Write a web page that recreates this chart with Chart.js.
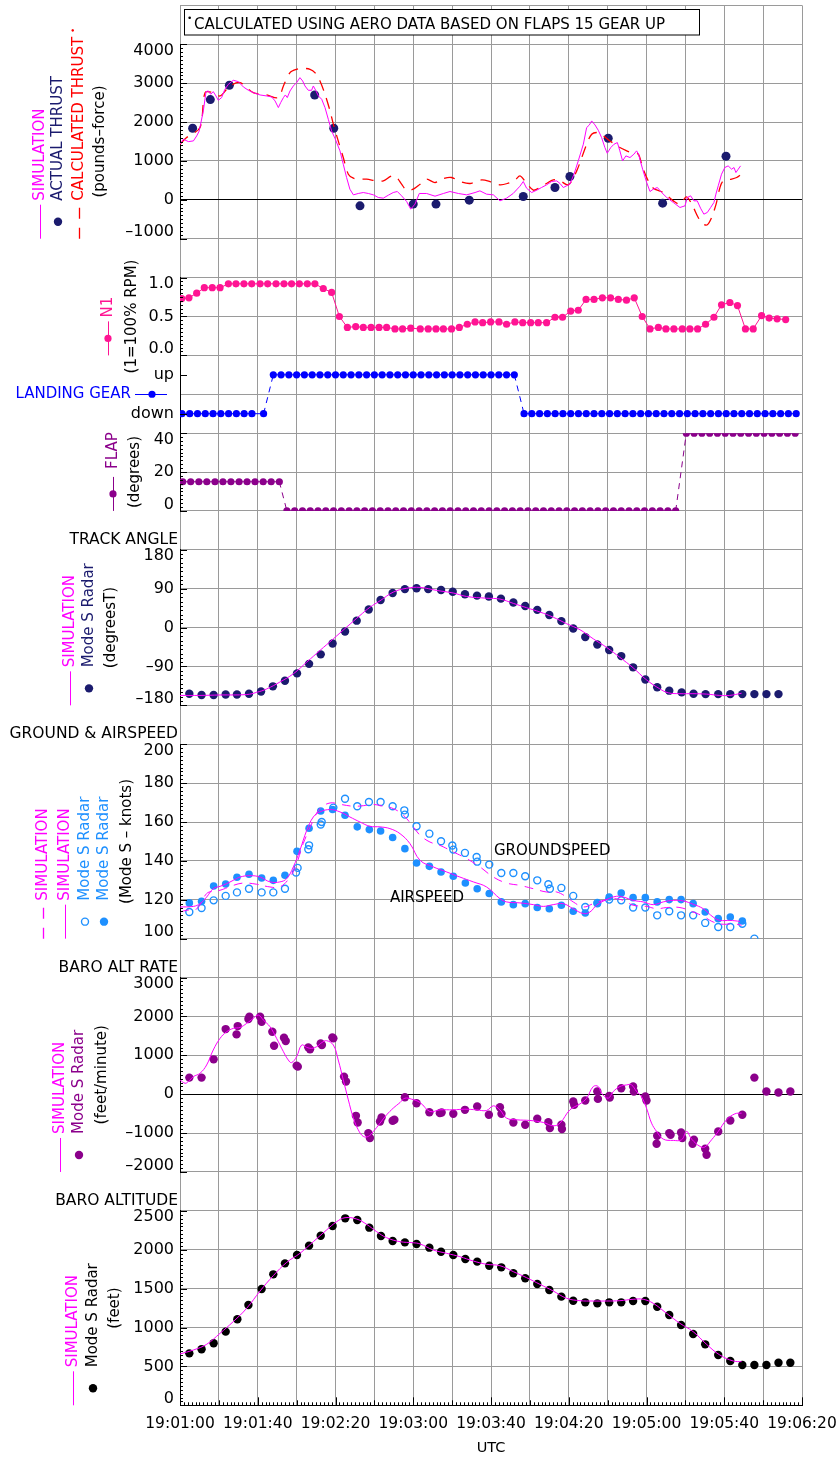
<!DOCTYPE html>
<html>
<head>
<meta charset="utf-8">
<script src="https://cdn.jsdelivr.net/npm/chart.js@4/dist/chart.umd.min.js"></script>
<style>
  html, body { margin: 0; padding: 0; background: #fff; }
  #wrap { position: relative; width: 839px; height: 1458px; }
</style>
</head>
<body>
<div id="wrap"><canvas id="c"></canvas></div>
<script>
// ---------- time axis (seconds after 19:01:00) ----------
const timeTickLabels = ['19:01:00','19:01:40','19:02:20','19:03:00','19:03:40','19:04:20','19:05:00','19:05:40','19:06:20'];

// ---------- thrust (pounds-force) ----------
const thrustSimT = [0,1.7,4.3,6.9,8.6,9.9,12.0,13.4,14.6,15.8,17.1,18.5,19.7,21.4,23.1,24.9,27.4,30.0,32.6,35.2,37.7,41.2,44.6,47.2,48.9,50.6,51.8,53.2,54.2,55.2,56.6,58.3,60.0,61.7,63.1,64.3,66.0,67.7,68.6,69.8,71.2,72.9,74.6,76.3,78.0,79.7,82.3,84.0,85.7,87.4,89.2,91.7,94.3,96.9,99.5,102.0,104.6,107.2,109.7,111.8,114.0,116.6,118.7,120.9,123.1,
  126.9,131.2,135.5,138.9,143.2,147.5,151.8,154.3,157.7,161.2,164.6,168.0,171.4,174.9,176.6,178.3,180.9,183.5,186.0,188.6,191.2,193.8,195.5,197.2,198.9,200.6,202.7,204.9,207.5,209.2,210.6,211.8,213.5,215.2,216.9,218.6,219.8,221.6,223.3,225.0,226.3,227.7,229.4,231.5,233.5,234.9,235.9,238.0,240.1,241.8,243.5,245.6,247.8,250.4,253.8,257.2,259.8,261.0,262.7,264.4,266.1,267.8,269.5,271.3,273.0,274.7,275.7,276.9,278.6,280.3,282.0,283.8,285.0,286.0,287.2,288.4];
const thrustSimV = [1430,1558,1498,1515,1644,1772,2286,2783,2800,2714,2783,2671,2560,2628,2843,2971,3074,3040,2903,2817,2757,2697,2671,2646,2543,2372,2500,2629,2697,2629,2800,2928,3014,3142,3057,2928,2817,2817,2928,2817,2671,2586,2372,2072,1772,1584,1259,916,574,274,128,163,188,163,128,60,43,120,188,214,103,-43,-240,-111,163,
  163,94,163,214,163,128,188,231,146,128,-26,43,163,351,471,300,188,248,317,385,471,488,420,317,360,402,659,1002,1430,1858,1926,2029,1926,1789,1601,1344,1199,1344,1430,1473,1259,1002,1130,1087,1173,1259,1173,788,445,214,274,317,188,60,-68,-197,-154,60,103,-26,-26,-214,-368,-325,-197,-68,146,360,659,831,873,788,831,702,788,873];
const thrustCalcT = [0,3.4,10.3,12.9,17.1,20.6,25.7,30.9,37.7,44.6,50.6,53.2,56.6,60.0,63.4,66.9,69.4,72.0,74.6,77.2,78.9,81.4,84.0,86.6,89.2,92.6,96.0,101.2,104.6,108.9,111.5,114.0,116.6,120.0,123.5,126.9,131.2,135.5,139.7,144.1,149.2,155.2,159.5,164.6,168.4,172.3,174.9,178.0,181.8,185.2,188.6,192.0,195.5,199.8,204.1,209.2,211.8,214.7,217.8,221.2,226.3,229.8,233.2,235.8,238.0,240.9,243.5,248.6,253.8,257.2,260.6,263.7,266.6,269.2,271.3,273.5,275.8,277.8,279.5,283.8,286.4,288.4];
const thrustCalcV = [1430,1601,1858,2757,2757,2671,2928,3014,2757,2697,2629,2928,3271,3356,3382,3356,3271,3057,2714,2286,1944,1515,1087,659,557,531,531,488,488,616,574,402,248,274,402,531,445,548,574,471,420,514,471,385,420,505,616,445,248,317,420,514,488,385,745,1430,1687,1730,1644,1515,1344,1259,1190,1173,831,488,300,188,-26,-111,77,-154,-454,-625,-642,-454,-111,317,488,531,574,642];
const thrustActualT = [6.5,15.6,25.4,69.3,79.1,92.6,120.0,131.7,148.8,176.6,192.9,200.6,220.3,248.3,280.9];
const thrustActualV = [1842,2577,2946,2697,1842,-154,-110,-110,-8,85,316,599,1585,-85,1122];

// ---------- N1 (1 = 100% RPM) ----------
const n1T = [0.9,4.6,8.6,12.5,16.6,20.6,24.9,28.8,32.9,36.9,41.2,45.1,49.4,53.5,57.4,61.4,65.5,69.4,73.7,78.0,82.0,86.1,90.4,94.3,98.3,102.4,106.3,110.6,114.5,118.7,123.6,127.7,131.7,135.5,139.7,143.7,147.8,151.8,155.7,159.8,164.1,168.0,172.3,176.3,180.4,184.3,188.6,192.9,196.8,201.0,204.9,208.9,213.0,217.3,221.5,225.5,229.7,233.7,237.8,241.8,246.1,250.0,254.1,258.4,262.3,266.3,270.4,274.7,278.6,282.9,286.8,290.9,294.9,299.2,303.1,307.2,311.6];
const n1V = [0.73,0.74,0.80,0.87,0.87,0.87,0.92,0.92,0.92,0.92,0.92,0.92,0.92,0.92,0.92,0.92,0.92,0.92,0.86,0.81,0.50,0.36,0.37,0.36,0.36,0.36,0.36,0.34,0.34,0.35,0.34,0.34,0.34,0.34,0.34,0.36,0.40,0.43,0.42,0.43,0.43,0.40,0.43,0.42,0.42,0.42,0.42,0.49,0.49,0.57,0.58,0.72,0.72,0.74,0.74,0.72,0.71,0.74,0.50,0.34,0.36,0.34,0.34,0.34,0.34,0.34,0.40,0.49,0.65,0.68,0.64,0.34,0.34,0.51,0.48,0.47,0.46];

// ---------- landing gear (0 = down, 1 = up) ----------
const gearT = [1,5,9,13,17,21,25,29,33,37,43,48,52,56,60,64,68,72,76,80,84,88,92,96,100,104,108,112,116,120,124,128,132,136,140,144,148,152,156,160,164,168,172,177,181,185,189,193,197,201,205,209,213,217,221,225,229,233,237,241,245,249,253,257,261,265,269,273,277,281,285,289,293,297,301,305,309,313,317];
const gearV = [0,0,0,0,0,0,0,0,0,0,0,1,1,1,1,1,1,1,1,1,1,1,1,1,1,1,1,1,1,1,1,1,1,1,1,1,1,1,1,1,1,1,1,0,0,0,0,0,0,0,0,0,0,0,0,0,0,0,0,0,0,0,0,0,0,0,0,0,0,0,0,0,0,0,0,0,0,0,0];
const gearTickLabels = {0: 'down', 1: 'up'};

// ---------- flap (degrees) ----------
const flapT = [1.4,5.5,9.7,13.8,18.0,22.1,26.2,30.4,34.5,38.6,42.8,46.9,51.1,55,59,63,67,71,75,79,83,87,91,95,99,103,107,111,115,119,123,127,131,135,139,143,147,151,155,159,163,167,171,175,179,183,187,191,195,199,203,207,211,215,219,223,227,231,235,239,243,247,251,255,260.5,264.5,268.5,272.5,276.5,280.5,284.5,288.5,292.5,296.5,300.5,304.5,308.5,312.5,316.5];
const flapV = [15,15,15,15,15,15,15,15,15,15,15,15,15,0,0,0,0,0,0,0,0,0,0,0,0,0,0,0,0,0,0,0,0,0,0,0,0,0,0,0,0,0,0,0,0,0,0,0,0,0,0,0,0,0,0,0,0,0,0,0,0,0,0,0,40,40,40,40,40,40,40,40,40,40,40,40,40,40,40];

// ---------- track angle (degrees true) ----------
const trackRadarT = [4.8,11.1,17.3,23.5,29.3,35.5,41.7,47.8,54.0,60.2,66.4,72.4,78.5,84.9,90.9,97.1,103.2,109.4,115.7,121.7,127.7,134.3,140.3,146.6,152.8,158.9,165.1,171.5,177.6,183.8,190.0,196.2,202.3,208.5,214.7,220.8,227.0,233.1,239.4,245.5,251.7,258.1,264.2,270.4,276.9,283.1,289.3,295.5,301.7,307.9];
const trackRadarV = [-153,-156,-156,-155,-155,-153,-148,-136,-123,-106,-84,-62,-37,-9,16,42,64,80,89,91,89,87,83,77,74,72,67,58,50,41,29,15,-2,-22,-39,-52,-66,-92,-120,-138,-146,-150,-153,-154,-154,-154,-154,-154,-154,-154];
const trackSimT = [0,10.3,20.6,34.3,39.4,44.6,51.4,58.3,65.2,72.0,78.9,85.7,92.6,97.7,102.9,109.7,116.6,123.5,132.0,140.6,147.4,157.7,164.6,171.5,178.3,185.2,192.0,198.9,205.8,212.6,219.5,226.3,233.1,240.0,246.9,251.2,257.2,263.9,270.9,277.7,282.8,288.9];
const trackSimV = [-157,-157,-156,-155,-150,-142,-126,-107,-80,-53,-26,1,28,47,62,82,91,93,86,80,72,68,66,56,46,36,24,9,-5,-26,-46,-69,-93,-121,-142,-151,-153,-153,-154,-157,-157,-152];

// ---------- ground & airspeed (knots) ----------
const airRadarT = [4.8,11.1,17.3,23.5,29.3,35.5,42.0,48.0,54.0,60.2,66.4,72.4,78.5,84.9,91.2,97.4,103.2,109.4,115.7,121.7,128.3,134.3,140.6,146.8,152.9,159.1,165.3,171.5,177.6,183.8,190.0,196.2,202.3,208.5,214.7,220.8,227.0,233.1,239.4,245.5,251.7,257.8,264.0,270.2,276.9,283.1,289.3];
const airRadarV = [118.4,119.2,127.1,128.1,131.6,133.1,131.2,130.0,132.6,144.9,156.8,165.7,166.4,163.5,157.5,156.1,155.4,152.0,146.3,138.9,137.2,134.3,132.1,128.6,125.7,123.2,118.9,117.5,118.0,116.0,115.4,117.2,114.1,113.2,118.0,121.4,123.5,121.1,121.1,118.9,120.1,120.1,118.0,113.7,110.3,111.1,109.1];
const groundRadarT = [4.8,11.1,17.3,23.5,29.3,35.5,42.0,48.0,54.0,59.7,60.5,66.0,66.4,72.4,72.9,78.9,84.9,91.2,97.2,103.2,109.4,115.4,115.7,121.7,128.3,134.3,140.1,140.6,146.6,152.6,152.9,159.1,165.3,171.5,177.6,183.8,189.5,190.3,196.2,202.3,208.5,214.7,220.8,227.0,233.1,239.4,245.5,251.7,257.8,264.0,270.2,276.9,283.1,289.3,295.5];
const groundRadarV = [113.7,115.8,119.7,122.0,123.8,125.7,123.8,123.8,125.7,134.0,136.4,146.0,148.0,158.7,160.0,167.4,172.0,168.1,170.3,170.3,168.1,166.0,163.8,157.8,154.0,150.1,147.9,145.8,144.1,142.0,139.6,138.1,133.8,133.8,132.1,130.0,128.0,125.7,126.1,122.0,116.3,118.4,120.1,119.7,116.0,116.0,112.0,114.1,112.0,112.0,108.1,106.0,106.0,107.7,100.0];
const airSimT = [0,6.9,10.3,13.7,17.1,20.6,24.0,27.4,30.9,36.0,41.2,46.3,51.4,54.9,58.3,61.7,65.2,68.6,72.0,77.2,82.3,87.4,92.6,97.7,102.9,108.0,113.2,118.3,123.5,130.3,137.2,144.0,150.9,157.7,164.6,168.0,174.9,181.8,186.9,192.0,197.2,202.3,207.5,210.9,214.3,219.5,224.6,228.1,233.1,238.3,243.5,248.6,253.8,258.9,264.0,269.2,274.3,277.8,282.9,288.1];
const airSimV = [116.3,116.6,118.0,121.4,125.7,126.9,128.3,130.0,131.7,132.4,131.7,129.2,129.2,130.9,136.9,145.5,155.7,162.6,165.2,166.4,165.2,162.6,160.0,157.8,157.5,156.6,154.0,148.9,140.3,136.9,134.3,131.7,129.2,126.6,120.6,118.9,118.4,117.5,116.6,117.5,118.0,115.4,112.9,113.7,117.2,120.1,121.8,121.4,119.7,118.9,117.5,118.9,119.7,119.4,117.7,115.4,111.1,109.4,109.4,108.9];
const groundSimT = [0,3.4,8.6,13.7,17.1,20.6,27.4,32.6,39.4,46.3,51.4,56.6,60.0,63.4,68.6,72.0,77.2,82.3,89.2,94.3,99.5,104.6,109.7,114.9,120.0,123.5,128.6,133.7,140.6,147.4,154.3,161.2,168.0,174.9,181.8,188.6,193.8,198.9,202.3,207.5,212.6,217.8,222.9,228.1,233.1,240.0,245.2,250.3,257.2,264.0,269.2,274.3,279.5,284.6,288.9];
const groundSimV = [113.7,114.6,115.4,123.2,124.4,124.9,127.4,128.6,128.0,126.6,126.6,131.7,138.6,148.9,160.9,166.9,169.8,169.1,168.1,168.4,169.0,168.1,166.9,163.5,157.5,153.2,149.7,148.0,144.6,141.2,136.9,131.7,128.6,127.4,125.7,124.0,124.0,121.4,118.9,116.3,118.0,119.7,120.6,119.7,117.2,116.6,115.4,116.0,116.0,113.7,111.5,108.6,107.4,107.7,106.9];

// ---------- baro altitude rate (feet/minute) ----------
const rateRadarT = [4.8,11.1,17.3,23.5,29.1,29.7,35.2,35.7,41.2,42.0,47.5,48.4,53.5,54.4,60.0,60.6,66.0,66.9,72.4,73.0,78.4,78.9,84.4,85.4,90.5,91.4,96.9,97.7,102.9,103.7,109.4,110.3,115.7,121.7,
  128.3,133.7,134.6,140.6,146.6,152.9,158.9,164.6,165.4,171.5,177.6,183.8,189.5,190.3,196.2,196.5,202.3,202.8,208.5,214.7,215.0,220.8,221.1,227.0,233.1,233.5,239.4,240.0,245.2,245.5,251.7,252.4,257.8,258.4,263.7,264.4,270.2,270.9,276.9,283.1,289.3,295.5,301.7,307.9,314.0];
const rateRadarV = [427,427,897,1675,1538,1752,1932,1991,1991,1863,1607,1248,1453,1368,735,709,1205,1154,1308,1265,1462,1436,453,325,-556,-726,-1000,-1128,-701,-598,-684,-658,-77,-231,
  -462,-487,-470,-504,-402,-316,-530,-333,-504,-726,-786,-632,-718,-872,-786,-897,-188,-274,-162,68,-120,-43,-85,154,197,68,-60,-162,-1274,-1068,-1000,-1043,-983,-1128,-1274,-1171,-1402,-1556,-957,-675,-530,427,68,43,68];
const rateSimT = [0,2.6,4.3,6.9,10.3,13.7,17.1,20.6,24.0,27.4,30.9,34.3,37.7,40.3,42.9,46.3,49.7,53.2,55.7,57.4,60.0,62.6,65.2,67.7,70.3,72.9,75.4,78.9,81.4,84.0,86.6,89.2,91.7,94.3,96.9,99.5,102.9,106.3,109.7,113.2,115.7,119.2,123.5,
  128.6,133.7,140.6,146.6,152.6,157.7,161.2,164.6,168.0,173.2,180.0,186.9,192.0,195.5,200.6,205.8,209.2,212.6,215.2,216.9,220.3,222.9,226.3,229.8,232.3,234.9,237.4,240.0,242.6,245.2,248.6,253.8,258.1,260.6,263.2,267.5,270.0,273.5,276.9,281.2,285.5,288.9];
const rateSimV = [368,282,325,453,538,752,1137,1436,1607,1692,1718,1821,1949,2034,1906,1735,1436,1094,880,812,966,1265,1205,1179,1222,1325,1376,1265,880,368,-145,-615,-915,-1085,-1085,-957,-744,-530,-359,-214,-103,-128,-214,
  -444,-402,-402,-385,-402,-419,-299,-402,-615,-658,-675,-726,-812,-744,-402,-248,-103,197,197,26,-103,68,197,239,239,68,-60,-359,-744,-957,-1154,-1188,-1171,-957,-1154,-1342,-1359,-1171,-957,-658,-504,-487];

// ---------- baro altitude (feet) ----------
const altRadarT = [4.8,11.1,17.3,23.5,29.5,35.2,42.0,48.0,54.0,60.2,66.4,72.4,78.5,85.0,91.2,97.4,103.4,109.4,115.7,121.7,128.3,134.3,140.6,146.8,152.9,159.1,165.3,171.5,177.6,183.8,190.0,196.2,202.3,208.5,214.7,220.8,227.0,233.1,239.4,245.5,251.7,257.8,264.0,270.2,276.9,283.1,289.3,295.5,301.7,307.9,314.0];
const altRadarV = [668,720,797,947,1106,1290,1495,1684,1825,1933,2053,2181,2305,2404,2382,2284,2177,2113,2095,2074,2027,1975,1933,1881,1847,1795,1774,1697,1633,1560,1483,1397,1345,1324,1311,1324,1324,1341,1341,1268,1161,1033,917,784,647,570,518,518,518,548,548];
const altSimT = [0,6.9,13.7,20.6,27.4,34.3,41.2,48.0,54.9,61.7,68.6,75.4,80.6,84.9,90.9,96.0,101.2,106.3,113.2,120.0,123.5,130.3,137.2,144.0,150.9,157.7,164.6,171.5,178.3,185.2,192.0,198.9,205.8,212.6,219.5,226.3,233.1,238.3,243.5,250.3,257.2,264.0,270.9,277.7,284.6,288.9];
const altSimV = [660,711,784,926,1076,1247,1470,1667,1838,1954,2104,2254,2361,2412,2395,2327,2232,2155,2104,2090,2075,1997,1954,1911,1855,1813,1795,1718,1641,1555,1470,1376,1345,1341,1341,1345,1363,1363,1311,1183,1054,947,784,647,570,561];

// ---------- styling ----------
const MAG = '#ff00ff', NAVY = '#1b1b6e', RED = '#ff0000', PINK = '#ff1493',
      BLUE = '#0000ff', PURPLE = '#8b008b', DODGER = '#1e90ff', BLACK = '#000000';
const GRID = '#9a9a9a';
const AXIS_W = 180;
const FONT = 'DejaVu Sans';
Chart.defaults.font.family = FONT;
Chart.defaults.color = '#000';

const pts = (ts, vs) => ts.map((t, i) => ({x: t, y: vs[i]}));
const num = v => (v < 0 ? '\u2013' + Math.abs(v) : String(v));

// end labels are nudged inside the panel: an empty line pushes the text inward
function edgeLabels(fmt) {
  return function (v, i, ticks) {
    const s = fmt(v);
    if (i === ticks.length - 1) return ['', s];
    if (i === 0) return [s, ''];
    return s;
  };
}
function fitLeft(s) { s.width = AXIS_W; s.paddingTop = 0; s.paddingBottom = 0; }
const zeroDark = c => (c.tick && c.tick.value === 0 ? '#000' : GRID);

function panel(weight, stackWeight, min, max, step, callback, gridColor) {
  return {
    axis: 'y', type: 'linear', position: 'left', stack: 'panels', weight, stackWeight,
    min, max, afterFit: fitLeft,
    ticks: {stepSize: step, autoSkip: false, padding: 6, color: '#000',
            font: {size: 16, lineHeight: 0.8}, callback},
    grid: {color: gridColor || GRID, lineWidth: 1, drawTicks: false},
    border: {display: true, color: '#000', width: 1}
  };
}
function spacer(weight) {
  return {
    axis: 'y', type: 'linear', position: 'left', stack: 'panels', weight, stackWeight: 1,
    min: 0, max: 1, afterFit: fitLeft,
    ticks: {display: false, stepSize: 1},
    grid: {color: GRID, lineWidth: 1, drawTicks: false},
    border: {display: false}
  };
}

const lineSet = (data, axis, color, extra) => Object.assign({
  data, yAxisID: axis, showLine: true, borderColor: color, borderWidth: 1,
  pointRadius: 0, fill: false, order: 0
}, extra || {});
const dotSet = (data, axis, color, r, extra) => Object.assign({
  data, yAxisID: axis, showLine: false, pointRadius: r, pointBackgroundColor: color,
  pointBorderWidth: 0, order: 1
}, extra || {});
const stepDash = {borderDash: c => (c.p0.parsed.y !== c.p1.parsed.y ? [6, 5] : undefined)};

const datasets = [
  lineSet(pts(thrustSimT, thrustSimV), 'thrust', MAG),
  lineSet(pts(thrustCalcT, thrustCalcV), 'thrust', RED, {borderDash: [11, 8], borderWidth: 1.3, tension: 0.3}),
  dotSet(pts(thrustActualT, thrustActualV), 'thrust', NAVY, 4.5),

  Object.assign(dotSet(pts(n1T, n1V), 'n1', PINK, 3.6), {showLine: true, borderColor: PINK, borderWidth: 1}),
  Object.assign(dotSet(pts(gearT, gearV), 'gear', BLUE, 3.6), {showLine: true, borderColor: BLUE, borderWidth: 1, segment: stepDash}),
  Object.assign(dotSet(pts(flapT, flapV), 'flap', PURPLE, 3.6), {showLine: true, borderColor: PURPLE, borderWidth: 1, segment: stepDash}),

  lineSet(pts(trackSimT, trackSimV), 'track', MAG, {tension: 0.4}),
  dotSet(pts(trackRadarT, trackRadarV), 'track', NAVY, 4.2),

  lineSet(pts(airSimT, airSimV), 'speed', MAG, {tension: 0.4}),
  lineSet(pts(groundSimT, groundSimV), 'speed', MAG, {tension: 0.4, borderDash: [9, 7]}),
  dotSet(pts(airRadarT, airRadarV), 'speed', DODGER, 3.8),
  dotSet(pts(groundRadarT, groundRadarV), 'speed', DODGER, 3.5,
         {pointBackgroundColor: 'rgba(255,255,255,0)', pointBorderColor: DODGER, pointBorderWidth: 1.4}),

  lineSet(pts(rateSimT, rateSimV), 'rate', MAG, {tension: 0.4}),
  dotSet(pts(rateRadarT, rateRadarV), 'rate', PURPLE, 4.2),

  lineSet(pts(altSimT, altSimV), 'alt', MAG, {tension: 0.4}),
  dotSet(pts(altRadarT, altRadarV), 'alt', BLACK, 4.2)
];

// ---------- legend columns, panel titles and notes ----------
const legendCols = [
  {axis: 'thrust', x: 40, marker: 'line', color: MAG, text: 'SIMULATION'},
  {axis: 'thrust', x: 58, marker: 'dot', color: NAVY, text: 'ACTUAL THRUST'},
  {axis: 'thrust', x: 79, marker: 'dash', color: RED, text: 'CALCULATED THRUST', star: true},
  {axis: 'thrust', x: 100, units: '(pounds\u2013force)'},
  {axis: 'n1', x: 108, marker: 'linedot', color: PINK, text: 'N1'},
  {axis: 'n1', x: 132, units: '(1=100% RPM)'},
  {axis: 'flap', x: 113, marker: 'linedot', color: PURPLE, text: 'FLAP', gap: 42},
  {axis: 'flap', x: 135, units: '(degrees)'},
  {axis: 'track', x: 70, marker: 'line', color: MAG, text: 'SIMULATION'},
  {axis: 'track', x: 89, marker: 'dot', color: NAVY, text: 'Mode S Radar'},
  {axis: 'track', x: 111, units: '(degreesT)'},
  {axis: 'speed', x: 43, marker: 'dash', color: MAG, text: 'SIMULATION'},
  {axis: 'speed', x: 65, marker: 'line', color: MAG, text: 'SIMULATION'},
  {axis: 'speed', x: 85, marker: 'ring', color: DODGER, text: 'Mode S Radar'},
  {axis: 'speed', x: 104, marker: 'dot', color: DODGER, text: 'Mode S Radar'},
  {axis: 'speed', x: 127, units: '(Mode S \u2013 knots)'},
  {axis: 'rate', x: 60, marker: 'line', color: MAG, text: 'SIMULATION'},
  {axis: 'rate', x: 79, marker: 'dot', color: PURPLE, text: 'Mode S Radar'},
  {axis: 'rate', x: 102, units: '(feet/minute)'},
  {axis: 'alt', x: 73, marker: 'line', color: MAG, text: 'SIMULATION'},
  {axis: 'alt', x: 93, marker: 'dot', color: BLACK, text: 'Mode S Radar'},
  {axis: 'alt', x: 115, units: '(feet)'}
];
const panelTitles = {track: 'TRACK ANGLE', speed: 'GROUND & AIRSPEED', rate: 'BARO ALT RATE', alt: 'BARO ALTITUDE'};
const speedNotes = [
  {text: 'GROUNDSPEED', t: 161.5, v: 145.1},
  {text: 'AIRSPEED', t: 108.0, v: 120.7}
];
const MINOR_STEP = {thrust: 100, n1: 0.05, flap: 2, track: 10, speed: 2, rate: 100, alt: 50};

function upText(ctx, str, x, y, align) {
  ctx.save();
  ctx.translate(x, y);
  ctx.rotate(-Math.PI / 2);
  ctx.textAlign = align;
  ctx.textBaseline = 'middle';
  ctx.fillText(str, 0, 0);
  const w = ctx.measureText(str).width;
  ctx.restore();
  return w;
}
function drawMarker(ctx, kind, color, x, b) {
  ctx.strokeStyle = color; ctx.fillStyle = color; ctx.lineWidth = 1;
  const px = Math.round(x) + 0.5;
  if (kind === 'line' || kind === 'linedot') {
    ctx.beginPath(); ctx.moveTo(px, b); ctx.lineTo(px, b - 34); ctx.stroke();
  }
  if (kind === 'dash') {
    ctx.lineWidth = 1.3;
    ctx.beginPath(); ctx.moveTo(px, b); ctx.lineTo(px, b - 11);
    ctx.moveTo(px, b - 20); ctx.lineTo(px, b - 31); ctx.stroke();
  }
  if (kind === 'dot' || kind === 'linedot') {
    ctx.beginPath(); ctx.arc(x, b - 17, kind === 'dot' ? 4.2 : 3.6, 0, Math.PI * 2); ctx.fill();
  }
  if (kind === 'ring') {
    ctx.lineWidth = 1.4;
    ctx.beginPath(); ctx.arc(x, b - 17, 3.5, 0, Math.PI * 2); ctx.stroke();
  }
}

const decorations = {
  id: 'decorations',
  afterDraw(chart) {
    const {ctx, scales} = chart;
    const a = chart.chartArea;
    ctx.save();

    // inward major and minor ticks on each panel axis and on the time axis
    ctx.strokeStyle = '#000'; ctx.lineWidth = 1;
    ctx.beginPath();
    for (const id in MINOR_STEP) {
      const s = scales[id], m = MINOR_STEP[id];
      const n = Math.round((s.max - s.min) / m);
      for (let i = 0; i <= n; i++) {
        const y = Math.round(s.getPixelForValue(s.min + i * m)) + 0.5;
        ctx.moveTo(a.left, y); ctx.lineTo(a.left + 3, y);
      }
      s.ticks.forEach(t => {
        const y = Math.round(s.getPixelForValue(t.value)) + 0.5;
        ctx.moveTo(a.left, y); ctx.lineTo(a.left + 7, y);
      });
    }
    const g = scales.gear;
    [0, 1].forEach(v => {
      const y = Math.round(g.getPixelForValue(v)) + 0.5;
      ctx.moveTo(a.left, y); ctx.lineTo(a.left + 7, y);
    });
    const xs = scales.x;
    for (let v = 0; v <= 320; v += 2) {
      const x = Math.round(xs.getPixelForValue(v)) + 0.5;
      const len = v % 40 === 0 ? 8 : (v % 20 === 0 ? 5 : 3);
      ctx.moveTo(x, a.bottom); ctx.lineTo(x, a.bottom - len);
    }
    ctx.stroke();

    // footnote box
    ctx.fillStyle = '#fff';
    ctx.fillRect(184.5, 9.5, 515, 25.5);
    ctx.strokeStyle = '#000';
    ctx.strokeRect(184.5, 9.5, 515, 25.5);
    ctx.fillStyle = '#000';
    ctx.textAlign = 'left'; ctx.textBaseline = 'alphabetic';
    ctx.font = '9px ' + FONT;
    ctx.fillText('\u2022', 187, 21);
    ctx.font = '15px ' + FONT;
    ctx.fillText('CALCULATED USING AERO DATA BASED ON FLAPS 15 GEAR UP', 194, 28.5);

    // panel titles
    ctx.font = '15.5px ' + FONT;
    ctx.textAlign = 'right';
    for (const id in panelTitles) {
      ctx.fillText(panelTitles[id], 178, scales[id].top - 6);
    }

    // rotated legends
    ctx.font = '15px ' + FONT;
    legendCols.forEach(c => {
      const s = scales[c.axis];
      if (c.units) {
        ctx.fillStyle = '#000';
        upText(ctx, c.units, c.x, (s.top + s.bottom) / 2, 'center');
        return;
      }
      drawMarker(ctx, c.marker, c.color, c.x, s.bottom);
      ctx.fillStyle = c.color;
      const start = s.bottom - (c.gap || 38);
      const w = upText(ctx, c.text, c.x, start, 'left');
      if (c.star) {
        ctx.font = '9px ' + FONT;
        upText(ctx, '\u2022', c.x - 5, start - w - 4, 'left');
        ctx.font = '15px ' + FONT;
      }
    });

    // landing gear legend (horizontal)
    const gy = (g.top + g.bottom) / 2;
    ctx.fillStyle = BLUE; ctx.strokeStyle = BLUE;
    ctx.textAlign = 'right'; ctx.textBaseline = 'middle';
    ctx.fillText('LANDING GEAR', 131, gy);
    ctx.beginPath(); ctx.moveTo(135, Math.round(gy) + 0.5); ctx.lineTo(167, Math.round(gy) + 0.5); ctx.stroke();
    ctx.beginPath(); ctx.arc(152, gy, 3.6, 0, Math.PI * 2); ctx.fill();

    // curve names in the speed panel
    ctx.fillStyle = '#000'; ctx.textAlign = 'left'; ctx.textBaseline = 'middle';
    speedNotes.forEach(n => {
      ctx.fillText(n.text, xs.getPixelForValue(n.t), scales.speed.getPixelForValue(n.v));
    });

    ctx.restore();
  }
};

new Chart(document.getElementById('c'), {
  type: 'scatter',
  data: {datasets},
  options: {
    responsive: true,
    maintainAspectRatio: false,
    devicePixelRatio: 1,
    animation: false,
    events: [],
    layout: {padding: {top: 3.8, right: 37, bottom: 0, left: 0}},
    plugins: {legend: {display: false}, tooltip: {enabled: false}},
    scales: {
      x: {
        type: 'linear', position: 'bottom', min: 0, max: 320,
        afterFit: s => { s.height = 52.7; s.paddingLeft = 0; s.paddingRight = 0; },
        ticks: {stepSize: 20, autoSkip: false, maxRotation: 0, minRotation: 0, padding: 9,
                color: '#000', font: {size: 15.5},
                callback: v => (Math.round(v) % 40 === 0 ? timeTickLabels[Math.round(v) / 40] : '')},
        grid: {color: GRID, lineWidth: 1, drawTicks: false},
        border: {display: true, color: '#000', width: 1},
        title: {display: true, text: 'UTC', color: '#000', font: {size: 14.5}, padding: {top: 0, bottom: 1}}
      },
      gap0: spacer(14),
      thrust: panel(13, 5, -1000, 4000, 1000, edgeLabels(num), zeroDark),
      gap1: spacer(12),
      n1: panel(11, 2, 0, 1, 0.5, edgeLabels(v => v.toFixed(1))),
      gear: panel(10, 2, -0.5, 1.5, 0.5, v => (gearTickLabels[v] || ''),
                  c => (c.tick && (c.tick.value === 0 || c.tick.value === 1) ? 'rgba(0,0,0,0)' : GRID)),
      flap: panel(9, 2, 0, 40, 20, edgeLabels(num)),
      gap2: spacer(8),
      track: panel(7, 4, -180, 180, 90, edgeLabels(num)),
      gap3: spacer(6),
      speed: panel(5, 5, 100, 200, 20, edgeLabels(num)),
      gap4: spacer(4),
      rate: panel(3, 5, -2000, 3000, 1000, edgeLabels(num), zeroDark),
      gap5: spacer(2),
      alt: panel(1, 5, 0, 2500, 500, edgeLabels(num))
    }
  },
  plugins: [decorations]
});
</script>
</body>
</html>
